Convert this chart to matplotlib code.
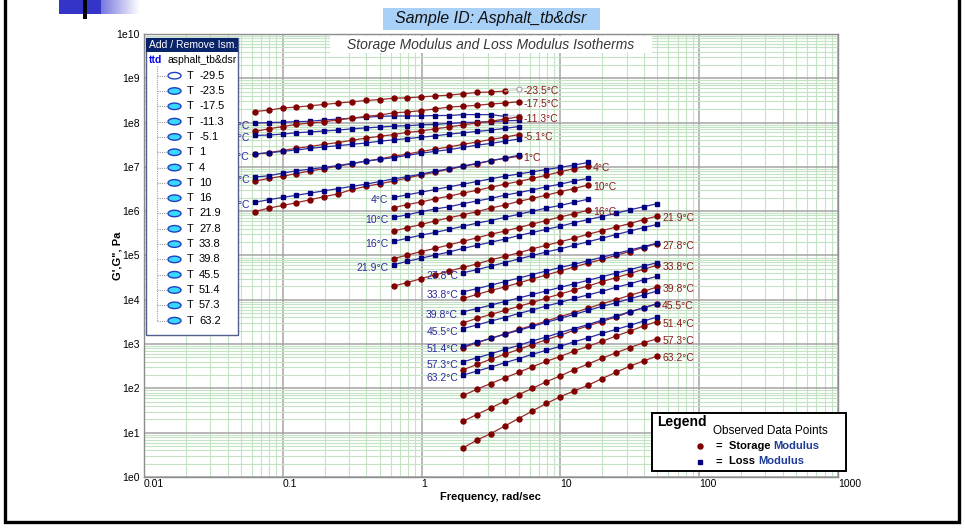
import numpy as np
import matplotlib
matplotlib.use("Agg")
import matplotlib.pyplot as plt
from matplotlib.patches import Rectangle, Ellipse
from matplotlib.ticker import LogLocator, NullFormatter
from matplotlib.transforms import Bbox

plt.rcParams["font.family"] = ["Liberation Sans", "DejaVu Sans"]

# ---------------------------------------------------------------------------
# Frequencies (rad/s) of each sweep
# ---------------------------------------------------------------------------
freq_a = [0.0628, 0.0791, 0.0996, 0.125, 0.158, 0.199, 0.25, 0.315, 0.397, 0.5,
          0.628, 0.791, 0.996, 1.25, 1.58, 1.99, 2.5, 3.15, 3.97, 5.0]
freq_b = [0.628, 0.791, 0.996, 1.25, 1.58, 1.99, 2.5, 3.15, 3.97, 5.0,
          6.28, 7.91, 9.96, 12.5, 15.8]
freq_d = [0.628, 0.791, 0.996, 1.25, 1.58, 1.99, 2.5, 3.15, 3.97, 5.0,
          6.28, 7.91, 9.96, 12.5, 15.8, 19.9, 25.0, 31.5, 39.7, 49.8]
freq_c = [1.99, 2.5, 3.15, 3.97, 5.0, 6.28, 7.91, 9.96, 12.5, 15.8,
          19.9, 25.0, 31.5, 39.7, 49.8]

# ---------------------------------------------------------------------------
# log10 of storage (gp) and loss (gpp) modulus, Pa
# ---------------------------------------------------------------------------
gp_m23_5 = [8.25, 8.28, 8.33, 8.35, 8.38, 8.41, 8.44, 8.47, 8.50, 8.52,
            8.55, 8.56, 8.58, 8.60, 8.62, 8.65, 8.68, 8.69, 8.71, 8.75]
gpp_m23_5 = [7.99, 8.00, 8.01, 8.02, 8.03, 8.06, 8.08, 8.10, 8.12, 8.14,
             8.15, 8.15, 8.15, 8.16, 8.16, 8.18, 8.18, 8.18, 8.14, 8.16]
gp_m17_5 = [7.80, 7.86, 7.91, 7.96, 7.99, 8.02, 8.06, 8.10, 8.14, 8.17,
            8.22, 8.24, 8.27, 8.31, 8.35, 8.37, 8.39, 8.42, 8.44, 8.47]
gpp_m17_5 = [7.71, 7.72, 7.74, 7.77, 7.79, 7.81, 7.83, 7.86, 7.88, 7.90,
             7.92, 7.93, 7.95, 7.96, 7.98, 8.00, 8.01, 8.02, 8.04, 8.05]
gp_m11_3 = [7.29, 7.32, 7.37, 7.42, 7.46, 7.51, 7.55, 7.60, 7.65, 7.69,
            7.73, 7.78, 7.81, 7.86, 7.90, 7.95, 7.99, 8.03, 8.08, 8.13]
gpp_m11_3 = [7.29, 7.32, 7.35, 7.38, 7.42, 7.45, 7.48, 7.51, 7.54, 7.58,
             7.61, 7.64, 7.67, 7.70, 7.74, 7.77, 7.80, 7.83, 7.87, 7.91]
gp_m5_1 = [6.68, 6.74, 6.79, 6.85, 6.91, 6.96, 7.02, 7.07, 7.13, 7.18,
           7.24, 7.29, 7.35, 7.40, 7.45, 7.51, 7.56, 7.62, 7.67, 7.73]
gpp_m5_1 = [6.77, 6.80, 6.86, 6.91, 6.95, 6.99, 7.03, 7.08, 7.13, 7.17,
            7.21, 7.26, 7.31, 7.35, 7.39, 7.44, 7.49, 7.53, 7.58, 7.63]
gp_1 = [5.99, 6.07, 6.13, 6.19, 6.26, 6.33, 6.39, 6.49, 6.56, 6.62,
        6.68, 6.75, 6.82, 6.88, 6.95, 7.01, 7.07, 7.14, 7.19, 7.24]
gpp_1 = [6.20, 6.26, 6.31, 6.36, 6.41, 6.46, 6.51, 6.56, 6.61, 6.67,
         6.73, 6.78, 6.84, 6.90, 6.96, 7.02, 7.08, 7.14, 7.20, 7.26]

gp_4 = [6.08, 6.15, 6.21, 6.28, 6.34, 6.41, 6.47, 6.54, 6.61, 6.67,
        6.74, 6.81, 6.89, 6.96, 7.02]
gpp_4 = [6.31, 6.37, 6.43, 6.49, 6.55, 6.61, 6.67, 6.73, 6.79, 6.84,
         6.89, 6.94, 6.99, 7.04, 7.10]
gp_10 = [5.55, 5.63, 5.70, 5.78, 5.85, 5.92, 5.99, 6.07, 6.14, 6.22,
         6.29, 6.36, 6.44, 6.51, 6.59]
gpp_10 = [5.86, 5.92, 5.99, 6.05, 6.10, 6.17, 6.23, 6.29, 6.36, 6.42,
          6.48, 6.55, 6.61, 6.68, 6.74]
gp_16 = [4.93, 5.01, 5.09, 5.16, 5.24, 5.32, 5.40, 5.48, 5.55, 5.63,
         5.71, 5.79, 5.87, 5.94, 6.02]
gpp_16 = [5.32, 5.39, 5.46, 5.52, 5.59, 5.66, 5.73, 5.79, 5.86, 5.93,
          6.00, 6.07, 6.13, 6.20, 6.27]
gp_21_9 = [4.31, 4.39, 4.48, 4.56, 4.65, 4.73, 4.81, 4.90, 4.98, 5.06,
           5.15, 5.23, 5.31, 5.39, 5.48, 5.56, 5.64, 5.72, 5.81, 5.89]
gpp_21_9 = [4.79, 4.87, 4.94, 5.01, 5.08, 5.16, 5.23, 5.30, 5.37, 5.45,
            5.52, 5.59, 5.66, 5.74, 5.81, 5.88, 5.95, 6.03, 6.10, 6.17]

gp_27_8 = [4.03, 4.12, 4.21, 4.29, 4.38, 4.47, 4.56, 4.65, 4.74, 4.83,
           4.91, 5.00, 5.09, 5.18, 5.27]
gpp_27_8 = [4.61, 4.68, 4.76, 4.84, 4.92, 5.00, 5.08, 5.15, 5.23, 5.31,
            5.39, 5.47, 5.55, 5.63, 5.70]
gp_33_8 = [3.48, 3.58, 3.67, 3.76, 3.85, 3.94, 4.04, 4.13, 4.22, 4.31,
           4.41, 4.50, 4.59, 4.69, 4.78]
gpp_33_8 = [4.18, 4.25, 4.33, 4.41, 4.49, 4.57, 4.65, 4.73, 4.80, 4.88,
            4.96, 5.04, 5.12, 5.20, 5.28]
gp_39_8 = [2.92, 3.03, 3.13, 3.23, 3.33, 3.42, 3.52, 3.62, 3.71, 3.81,
           3.91, 4.00, 4.10, 4.19, 4.29]
gpp_39_8 = [3.73, 3.80, 3.88, 3.96, 4.04, 4.12, 4.20, 4.28, 4.36, 4.44,
            4.52, 4.60, 4.68, 4.76, 4.84]
gp_45_5 = [2.42, 2.54, 2.66, 2.77, 2.88, 2.99, 3.10, 3.20, 3.31, 3.41,
           3.51, 3.61, 3.72, 3.82, 3.91]
gpp_45_5 = [3.35, 3.43, 3.52, 3.60, 3.69, 3.77, 3.86, 3.94, 4.03, 4.11,
            4.19, 4.28, 4.36, 4.45, 4.53]
gp_51_4 = [1.84, 1.98, 2.11, 2.24, 2.36, 2.49, 2.61, 2.72, 2.84, 2.95,
           3.06, 3.18, 3.29, 3.41, 3.51]
gpp_51_4 = [2.95, 3.04, 3.13, 3.22, 3.31, 3.40, 3.49, 3.58, 3.67, 3.76,
            3.85, 3.93, 4.02, 4.11, 4.20]
gp_57_3 = [1.26, 1.41, 1.56, 1.71, 1.86, 2.00, 2.15, 2.28, 2.42, 2.55,
           2.68, 2.80, 2.92, 3.03, 3.12]
gpp_57_3 = [2.60, 2.69, 2.78, 2.88, 2.97, 3.07, 3.16, 3.26, 3.35, 3.44,
            3.54, 3.63, 3.73, 3.82, 3.91]
gp_63_2 = [0.66, 0.83, 0.98, 1.15, 1.32, 1.49, 1.66, 1.81, 1.94, 2.07,
           2.22, 2.36, 2.50, 2.62, 2.73]
gpp_63_2 = [2.30, 2.39, 2.48, 2.58, 2.67, 2.77, 2.86, 2.95, 3.05, 3.14,
            3.24, 3.33, 3.42, 3.52, 3.61]

# isotherm list in the selector panel (-29.5 is unchecked, not plotted)
panel_temps = ["-29.5", "-23.5", "-17.5", "-11.3", "-5.1", "1", "4", "10", "16",
               "21.9", "27.8", "33.8", "39.8", "45.5", "51.4", "57.3", "63.2"]

isotherms = [
    ("-23.5", freq_a, gp_m23_5, gpp_m23_5),
    ("-17.5", freq_a, gp_m17_5, gpp_m17_5),
    ("-11.3", freq_a, gp_m11_3, gpp_m11_3),
    ("-5.1", freq_a, gp_m5_1, gpp_m5_1),
    ("1", freq_a, gp_1, gpp_1),
    ("4", freq_b, gp_4, gpp_4),
    ("10", freq_b, gp_10, gpp_10),
    ("16", freq_b, gp_16, gpp_16),
    ("21.9", freq_d, gp_21_9, gpp_21_9),
    ("27.8", freq_c, gp_27_8, gpp_27_8),
    ("33.8", freq_c, gp_33_8, gpp_33_8),
    ("39.8", freq_c, gp_39_8, gpp_39_8),
    ("45.5", freq_c, gp_45_5, gpp_45_5),
    ("51.4", freq_c, gp_51_4, gpp_51_4),
    ("57.3", freq_c, gp_57_3, gpp_57_3),
    ("63.2", freq_c, gp_63_2, gpp_63_2),
]
masked_last = {"-23.5"}   # last point of this sweep is excluded (drawn hollow)

RED, RED_LINE = "#800000", "#9a2a2a"
BLUE, BLUE_LINE = "#000080", "#2c2ca0"

W, H = 965, 529
PANEL_RIGHT = 238          # selector panel covers the plot left of this pixel
fig = plt.figure(figsize=(W / 100, H / 100), dpi=100)
fig.patch.set_facecolor("white")

# ---------------------------------------------------------------------------
# Main log-log plot
# ---------------------------------------------------------------------------
ax = fig.add_axes([144 / W, 1 - 477 / H, (838 - 144) / W, (477 - 34) / H])
ax.set_xscale("log")
ax.set_yscale("log")
ax.set_xlim(0.01, 1000)
ax.set_ylim(1, 1e10)

xt = [0.01, 0.1, 1, 10, 100, 1000]
ax.set_xticks(xt)
ax.set_xticklabels(["0.01", "0.1", "1", "10", "100", "1000"], ha="left", fontsize=7.5)
ax.set_yticks([10.0 ** k for k in range(11)])
ax.set_yticklabels([f"1e{k}" for k in range(11)], fontsize=7.5)
for axis in (ax.xaxis, ax.yaxis):
    axis.set_minor_locator(LogLocator(base=10, subs=np.arange(2, 10), numticks=100))
    axis.set_minor_formatter(NullFormatter())
ax.tick_params(which="both", length=0)
ax.tick_params(axis="x", pad=1.5)
ax.tick_params(axis="y", pad=3)
ax.set_axisbelow(True)
ax.grid(True, which="minor", color="#c4e2c4", lw=0.8)
ax.grid(True, which="major", color="#a4a4a4", lw=1.1)
for sp in ax.spines.values():
    sp.set_color("#8c8c8c")
    sp.set_linewidth(1)

# labels that would fall under the selector panel are cut at its edge
label_clip = Bbox([[PANEL_RIGHT, 0], [W, H]])

for temp, f, gp, gpp in isotherms:
    f = np.asarray(f)
    gp = 10.0 ** np.asarray(gp)
    gpp = 10.0 ** np.asarray(gpp)
    n = len(f) - 1 if temp in masked_last else len(f)
    ax.plot(f[:n], gp[:n], "-o", color=RED_LINE, mfc=RED, mec=RED, ms=3.6, lw=0.9)
    ax.plot(f[:n], gpp[:n], "-s", color=BLUE_LINE, mfc=BLUE, mec=BLUE, ms=3.4, lw=0.9)
    if n < len(f):
        ax.plot(f[-2:], gp[-2:], "-", color="#d8c8c8", lw=0.8)
        ax.plot(f[-1], gp[-1], "o", mfc="white", mec="#b0b0b0", ms=3.6)
        ax.plot(f[-2:], gpp[-2:], "-", color="#c8c8d8", lw=0.8)
        ax.plot(f[-1], gpp[-1], "s", mfc="white", mec="#b0b0b0", ms=3.4)
    left = ax.annotate(f"{temp}°C", xy=(f[0], gpp[0]), xytext=(-5, -3),
                       textcoords="offset pixels", ha="right", va="center",
                       color="#2a2a9c", fontsize=7.5)
    left.set_clip_box(label_clip)
    left.set_clip_on(True)
    ax.annotate(f"{temp}°C", xy=(f[-1], gp[-1]), xytext=(5, -2),
                textcoords="offset pixels", ha="left", va="center",
                color="#8c1c1c", fontsize=7.5)

# ---------------------------------------------------------------------------
# Overlay in pixel units: titles, selector panel, legend, slide frame
# ---------------------------------------------------------------------------
ov = fig.add_axes([0, 0, 1, 1], zorder=10)
ov.set_xlim(0, W)
ov.set_ylim(H, 0)
ov.axis("off")

# slide decoration and frame
ov.add_patch(Rectangle((59, 0), 42, 14, fc="#3434c8", ec="none"))
grad = np.linspace(0, 1, 64)[None, :]
ov.imshow(grad, extent=(101, 140, 14, 0), cmap=matplotlib.colors.LinearSegmentedColormap.from_list(
    "fade", ["#7878e0", "#ffffff"]), aspect="auto", zorder=1)
ov.add_patch(Rectangle((83, 0), 4, 19, fc="black", ec="none", zorder=2))
ov.plot([5, 5, 959, 959], [0, 522, 522, 0], color="black", lw=2.4, solid_joinstyle="miter")

# titles
ov.add_patch(Rectangle((383, 8), 217, 22, fc="#a9d1f7", ec="none"))
ov.text(491, 19, "Sample ID: Asphalt_tb&dsr", ha="center", va="center",
        fontsize=11.5, style="italic", color="#111111")
ov.add_patch(Rectangle((330, 36), 322, 17, fc="white", ec="none"))
ov.text(491, 44.5, "Storage Modulus and Loss Modulus Isotherms", ha="center",
        va="center", fontsize=10, style="italic", color="#383838")

# axis titles
ov.text(117, 256, "G',G\", Pa", rotation=90, ha="center", va="center",
        fontsize=8, fontweight="bold")
ov.text(490, 497, "Frequency, rad/sec", ha="center", va="center",
        fontsize=8, fontweight="bold")

# isotherm selector panel
ov.add_patch(Rectangle((146, 38), PANEL_RIGHT - 146, 297, fc="white", ec="#50608c", lw=1))
ov.add_patch(Rectangle((146, 38), PANEL_RIGHT - 146, 14, fc="#0a246a", ec="none"))
ov.text(149, 45.5, "Add / Remove Ism.", color="white", va="center", fontsize=7.5)
ov.text(149, 60, "ttd", color="#0000ee", va="center", fontsize=7.5, fontweight="bold")
ov.text(167, 60, "asphalt_tb&dsr", color="black", va="center", fontsize=7.5)
row_y = 75.7 + 15.31 * np.arange(len(panel_temps))
ov.plot([157, 157], [66, row_y[-1]], color="#a0a0a0", lw=0.8, ls=(0, (1, 1)))
for i, (t, y) in enumerate(zip(panel_temps, row_y)):
    ov.plot([157, 168], [y, y], color="#a0a0a0", lw=0.8, ls=(0, (1, 1)))
    fc = "white" if i == 0 else "#38d8ff"
    ov.add_patch(Ellipse((174.5, y), 13, 6.5, fc=fc, ec="#2040c0", lw=1))
    ov.text(187, y, "T", va="center", fontsize=8)
    ov.text(199, y, t, va="center", fontsize=8)

# legend box
ov.add_patch(Rectangle((652, 413), 194, 58, fc="white", ec="black", lw=1.4))
ov.text(657, 422, "Legend", va="center", fontsize=10, fontweight="bold")
ov.text(713, 431, "Observed Data Points", va="center", fontsize=8.5)
ov.plot(700, 446, "o", color=RED, ms=3.6)
ov.plot(700, 461.5, "s", color=BLUE, ms=3.4)
for y, word in ((446, "Storage"), (461.5, "Loss")):
    ov.text(716, y, "=", va="center", fontsize=8, fontweight="bold")
    t = ov.text(729, y, word + " ", va="center", fontsize=8, fontweight="bold")
    ov.annotate("Modulus", xycoords=t, xy=(1, 0.5), va="center", fontsize=8,
                fontweight="bold", color="#1e3c96")

fig.savefig("out.png", dpi=100)
